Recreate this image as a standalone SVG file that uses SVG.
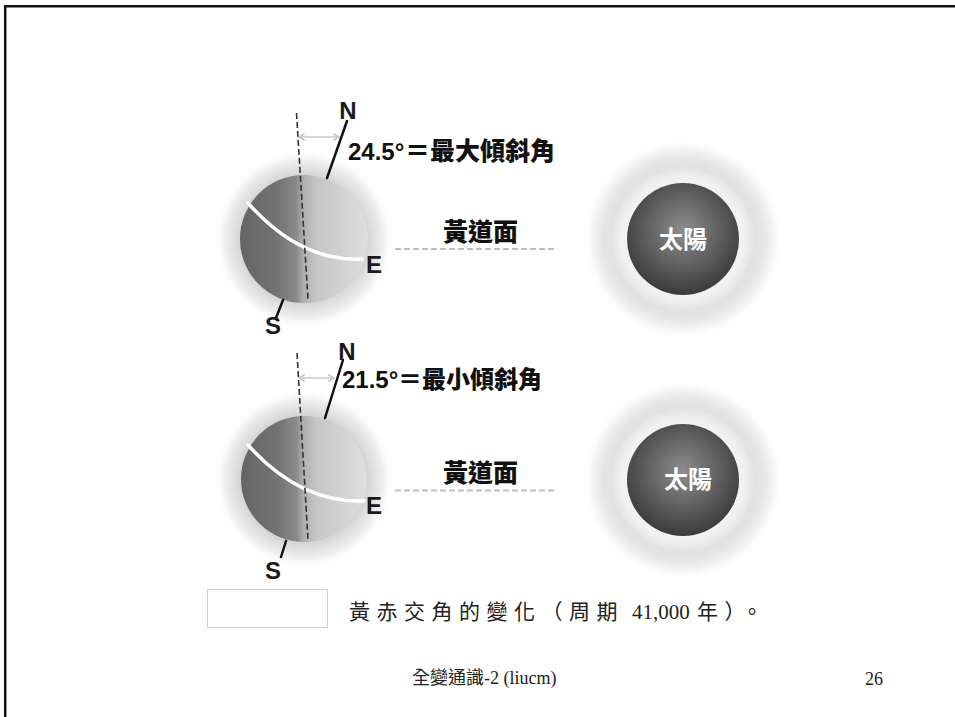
<svg xmlns="http://www.w3.org/2000/svg" width="955" height="717" viewBox="0 0 955 717">
  <defs>
    <style>
      .bold { font-family: "Liberation Sans", "Noto Sans CJK TC", sans-serif; font-weight: bold; fill: #111; }
      .cjk { font-family: "Noto Sans CJK TC", sans-serif; font-weight: 900; fill: #111; }
      .pole { font-family: "Liberation Sans", sans-serif; font-weight: bold; font-size: 24px; fill: #1a1a1a; }
      .sunlbl { font-family: "Noto Sans CJK TC", sans-serif; font-weight: bold; font-size: 24px; fill: #fff; text-anchor: middle; }
      .serif { font-family: "Liberation Serif", "Noto Sans CJK TC", serif; fill: #222; }
      .axis { stroke: #111; stroke-width: 2.5; stroke-linecap: round; }
      .vert { stroke: #333; stroke-width: 1.6; stroke-dasharray: 6 3; fill: none; }
      .equator { stroke: #fff; stroke-width: 3.5; fill: none; stroke-linecap: round; }
      .ecliptic { stroke: #bdbdbd; stroke-width: 2; stroke-dasharray: 6 3; }
      .span { stroke: #c8c8c8; stroke-width: 1.6; marker-start: url(#chev); marker-end: url(#chev); }
    </style>
    <linearGradient id="earthShade" x1="0" y1="0" x2="1" y2="0">
      <stop offset="0" stop-color="#646464"/>
      <stop offset="0.3" stop-color="#747474"/>
      <stop offset="0.44" stop-color="#8a8a8a"/>
      <stop offset="0.5" stop-color="#b0b0b0"/>
      <stop offset="0.6" stop-color="#c6c6c6"/>
      <stop offset="1" stop-color="#dedede"/>
    </linearGradient>
    <radialGradient id="earthHalo" cx="0.5" cy="0.5" r="0.5">
      <stop offset="0.68" stop-color="#cfcfcf"/>
      <stop offset="0.75" stop-color="#dcdcdc"/>
      <stop offset="0.88" stop-color="#efefef"/>
      <stop offset="1" stop-color="#fff" stop-opacity="0"/>
    </radialGradient>
    <radialGradient id="sunHalo" cx="0.5" cy="0.5" r="0.5">
      <stop offset="0.55" stop-color="#f2f2f2"/>
      <stop offset="0.62" stop-color="#f0f0f0"/>
      <stop offset="0.72" stop-color="#e2e2e2"/>
      <stop offset="0.8" stop-color="#e5e5e5"/>
      <stop offset="0.9" stop-color="#f3f3f3"/>
      <stop offset="1" stop-color="#fff" stop-opacity="0"/>
    </radialGradient>
    <radialGradient id="sunDisc" cx="0.5" cy="0.42" r="0.6">
      <stop offset="0" stop-color="#8e8e8e"/>
      <stop offset="0.6" stop-color="#5a5a5a"/>
      <stop offset="1" stop-color="#383838"/>
    </radialGradient>
    <marker id="chev" viewBox="0 0 10 10" refX="9" refY="5" markerWidth="8" markerHeight="8" orient="auto-start-reverse" markerUnits="userSpaceOnUse">
      <path d="M2,1 L9,5 L2,9" fill="none" stroke="#c4c4c4" stroke-width="2"/>
    </marker>
  </defs>

  <rect width="955" height="717" fill="#fff"/>
  <!-- page frame (top and left edges) -->
  <path d="M5.2,717 V6.2 H955" fill="none" stroke="#111" stroke-width="2.5"/>

  <!-- upper panel: maximum tilt -->
  <g id="earth-1">
    <circle cx="304" cy="239" r="90" fill="url(#earthHalo)"/>
    <circle cx="304" cy="239" r="64" fill="url(#earthShade)"/>
    <path class="equator" d="M248,203 Q300,262 362,259"/>
    <line class="vert" x1="296.5" y1="113" x2="308" y2="300"/>
    <line class="axis" x1="327" y1="178" x2="347" y2="121"/>
    <line class="axis" x1="283" y1="300" x2="276" y2="318"/>
    <text class="pole" x="348" y="119" text-anchor="middle">N</text>
    <text class="pole" x="273" y="334" text-anchor="middle">S</text>
    <text class="pole" x="366" y="273">E</text>
  </g>
  <g id="sun-1">
    <circle cx="683" cy="239" r="100" fill="url(#sunHalo)"/>
    <circle cx="683" cy="239" r="56" fill="url(#sunDisc)"/>
    <text class="sunlbl" x="683" y="248">太陽</text>
  </g>
  <g id="label-1">
    <text class="bold" x="348" y="160" font-size="24">24.5°<tspan class="cjk" x="405" font-size="25">＝最大傾斜角</tspan></text>
    <text class="cjk" x="443" y="241" font-size="25">黃道面</text>
  </g>

  <!-- lower panel: minimum tilt -->
  <g id="earth-2">
    <circle cx="304" cy="479" r="90" fill="url(#earthHalo)"/>
    <circle cx="304" cy="479" r="63" fill="url(#earthShade)"/>
    <path class="equator" d="M248,445 Q300,503 364,501"/>
    <line class="vert" x1="297" y1="353" x2="308" y2="540"/>
    <line class="axis" x1="325" y1="418" x2="343" y2="360"/>
    <line class="axis" x1="286" y1="541" x2="281" y2="557"/>
    <text class="pole" x="347" y="360" text-anchor="middle">N</text>
    <text class="pole" x="273" y="579" text-anchor="middle">S</text>
    <text class="pole" x="366" y="514">E</text>
  </g>
  <g id="sun-2">
    <circle cx="683" cy="480" r="100" fill="url(#sunHalo)"/>
    <circle cx="683" cy="480" r="56" fill="url(#sunDisc)"/>
    <text class="sunlbl" x="688" y="488">太陽</text>
  </g>
  <g id="label-2">
    <text class="bold" x="342" y="388" font-size="24">21.5°<tspan class="cjk" x="398" font-size="24">＝最小傾斜角</tspan></text>
    <text class="cjk" x="443" y="482" font-size="25">黃道面</text>
  </g>

  <!-- connectors: tilt spans and ecliptic planes -->
  <g id="connectors">
    <line class="span" x1="299" y1="137" x2="339" y2="137"/>
    <line class="span" x1="299" y1="378" x2="334" y2="378"/>
    <line class="ecliptic" x1="395" y1="249" x2="556" y2="249"/>
    <line class="ecliptic" x1="395" y1="490.5" x2="556" y2="490.5"/>
  </g>

  <!-- caption -->
  <g id="caption">
    <rect x="207.5" y="589.5" width="120" height="38" fill="#fff" stroke="#cfcfcf" stroke-width="1"/>
    <text class="serif" x="349" y="619" font-size="21" letter-spacing="6.5">黃赤交角的變化（周期</text>
    <text class="serif" x="632" y="619" font-size="21">41,000</text>
    <text class="serif" x="697" y="619" font-size="21" letter-spacing="6.5">年）。</text>
  </g>

  <!-- footer -->
  <g id="footer">
    <text class="serif" x="412" y="684" font-size="18">全變通識-2 (liucm)</text>
    <text class="serif" x="865" y="685" font-size="18">26</text>
  </g>
</svg>
